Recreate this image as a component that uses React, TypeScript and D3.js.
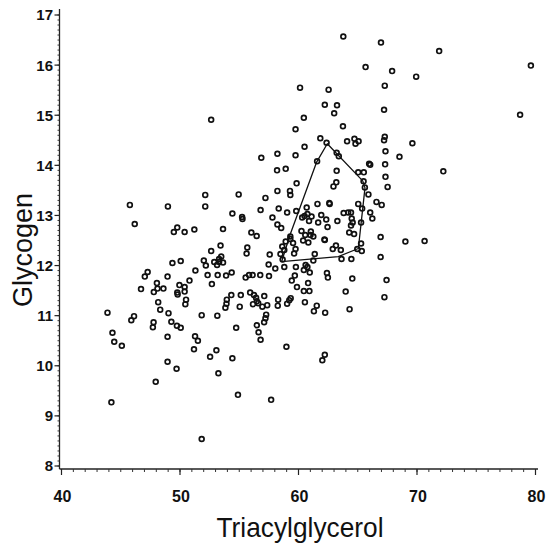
import * as d3 from "d3";

// Triacylglycerol (x) and Glycogen (y)
const triacylglycerol = [
  63.78, 66.96, 71.87, 79.61, 65.66, 67.9, 69.93, 67.28, 60.13, 62.54,
  62.22, 63.25, 67.22, 63.01, 78.7, 52.63, 60.45, 63.75, 59.75, 61.84,
  67.28, 67.22, 64.72, 65.07, 64.1, 64.81, 69.61, 62.37, 60.51, 63.22,
  63.4, 58.22, 56.86, 59.75, 67.34, 68.52, 61.57, 65.96, 66.05, 67.31,
  72.22, 58.19, 58.92, 63.22, 65.04, 65.51, 67.34, 65.49, 63.19, 62.95,
  59.84, 65.6, 67.52, 58.22, 59.28, 59.31, 54.95, 52.13, 65.9, 57.21,
  45.77, 48.98, 52.13, 66.58, 67.02, 65.04, 62.6, 62.63, 61.6, 60.69,
  56.8, 58.33, 65.37, 59.81, 59.04, 54.42, 55.24, 55.27, 60.51, 60.75,
  61.92, 63.81, 64.19, 64.43, 66.05, 57.8, 60.31, 61.1, 66.23, 62.34,
  64.49, 64.57, 63.28, 60.89, 61.66, 65.28, 46.18, 58.22, 62.45, 64.43,
  58.54, 53.63, 51.21, 49.77, 49.48, 50.39, 56.02, 56.47, 60.25, 60.57,
  61.04, 61.01, 61.25, 64.28, 64.69, 66.93, 59.31, 59.31, 58.92, 59.54,
  60.39, 60.83, 62.19, 62.22, 65.28, 69.02, 70.64, 53.42, 55.68, 63.16,
  62.89, 63.57, 58.63, 59.75, 58.8, 65.34, 64.96, 52.63, 55.62, 57.57,
  58.48, 59.63, 61.37, 53.48, 53.3, 66.93, 63.63, 64.46, 61.25, 52.01,
  50.06, 49.36, 52.89, 53.3, 53.63, 52.18, 53.13, 57.48, 58.66, 58.8,
  59.78, 60.6, 60.75, 58.04, 60.45, 60.95, 62.4, 51.3, 47.27, 47.03,
  52.33, 53.18, 53.89, 54.36, 55.83, 56.13, 56.77, 57.51, 55.54, 48.95,
  62.48, 59.69, 64.54, 50.8, 59.43, 67.43, 48.05, 60.81, 49.95, 50.39,
  52.69, 46.71, 48.1, 48.6, 47.79, 49.77, 50.39, 59.87, 60.45, 60.92,
  63.98, 55.92, 56.24, 56.42, 49.8, 54.33, 55.13, 57.11, 53.95, 56.48,
  56.6, 50.51, 58.28, 59.34, 59.22, 67.25, 48.16, 60.54, 53.92, 53.83,
  50.45, 56.16, 55.04, 56.95, 57.36, 58.25, 59.04, 61.54, 48.33, 64.31,
  43.88, 46.12, 45.89, 49.03, 51.83, 53.15, 57.27, 61.3, 62.25, 57.21,
  57.1, 49.27, 47.77, 47.71, 49.74, 50.06, 56.48, 56.63, 56.8, 54.74,
  44.3, 44.45, 45.09, 48.95, 51.27, 51.51, 58.98, 53.07, 52.54, 51.18,
  54.42, 62.22, 62.01, 48.95, 49.71, 53.24, 47.95, 54.89, 57.69, 44.21,
  51.83,
];

const glycogen = [
  16.57, 16.45, 16.28, 15.99, 15.96, 15.88, 15.77, 15.59, 15.55, 15.51,
  15.21, 15.2, 15.11, 15.04, 15.01, 14.91, 14.95, 14.78, 14.72, 14.54,
  14.57, 14.5, 14.53, 14.48, 14.48, 14.43, 14.44, 14.45, 14.37, 14.25,
  14.18, 14.23, 14.15, 14.2, 14.28, 14.17, 14.08, 14.03, 14.01, 14.02,
  13.88, 13.9, 13.93, 13.89, 13.86, 13.86, 13.77, 13.68, 13.66, 13.58,
  13.64, 13.56, 13.57, 13.49, 13.49, 13.41, 13.42, 13.41, 13.42, 13.35,
  13.21, 13.18, 13.18, 13.27, 13.21, 13.23, 13.25, 13.23, 13.23, 13.16,
  13.11, 13.14, 13.14, 13.09, 13.06, 13.04, 12.97, 12.93, 12.99, 13.03,
  13.01, 13.05, 13.06, 13.06, 13.06, 12.96, 12.96, 12.98, 12.94, 12.92,
  12.94, 12.86, 12.89, 12.89, 12.86, 12.86, 12.83, 12.82, 12.77, 12.8,
  12.75, 12.73, 12.72, 12.76, 12.67, 12.67, 12.66, 12.59, 12.69, 12.61,
  12.68, 12.61, 12.58, 12.66, 12.63, 12.57, 12.58, 12.53, 12.48, 12.45,
  12.5, 12.46, 12.52, 12.51, 12.44, 12.48, 12.49, 12.4, 12.36, 12.4,
  12.33, 12.31, 12.38, 12.33, 12.31, 12.29, 12.33, 12.29, 12.24, 12.22,
  12.23, 12.24, 12.23, 12.18, 12.13, 12.17, 12.13, 12.13, 12.1, 12.1,
  12.09, 12.05, 12.07, 12.07, 12.06, 12.0, 12.01, 12.02, 12.12, 11.97,
  11.97, 12.01, 11.97, 11.94, 11.91, 11.86, 11.85, 11.9, 11.87, 11.78,
  11.81, 11.81, 11.8, 11.86, 11.81, 11.81, 11.81, 11.79, 11.76, 11.78,
  11.76, 11.8, 11.74, 11.7, 11.7, 11.71, 11.65, 11.65, 11.61, 11.57,
  11.63, 11.53, 11.54, 11.54, 11.47, 11.46, 11.48, 11.57, 11.49, 11.49,
  11.48, 11.46, 11.41, 11.36, 11.42, 11.41, 11.41, 11.39, 11.32, 11.29,
  11.25, 11.32, 11.32, 11.35, 11.31, 11.37, 11.27, 11.27, 11.24, 11.16,
  11.23, 11.23, 11.18, 11.18, 11.21, 11.2, 11.24, 11.2, 11.12, 11.13,
  11.06, 10.99, 10.91, 11.05, 11.01, 11.0, 11.02, 11.09, 11.06, 10.95,
  10.87, 10.88, 10.87, 10.77, 10.8, 10.76, 10.81, 10.67, 10.52, 10.76,
  10.66, 10.48, 10.4, 10.58, 10.59, 10.5, 10.38, 10.31, 10.18, 10.33,
  10.15, 10.22, 10.11, 10.08, 9.94, 9.85, 9.68, 9.42, 9.32, 9.27,
  8.54,
];

// outline drawn round the central group
const hullX = [62.43, 65.42, 65.61, 65.05, 63.36, 58.58, 59.28, 61.54];
const hullY = [14.43, 13.69, 13.55, 12.34, 12.18, 12.08, 12.61, 14.07];

const xTicks = [40, 50, 60, 70, 80];
const yTicks = [8, 9, 10, 11, 12, 13, 14, 15, 16, 17];

export default function App() {
  const width = 546;
  const height = 552;

  const x = d3.scaleLinear().domain([40, 80]).range([61.5, 535.5]);
  const y = d3.scaleLinear().domain([8, 17]).range([466, 15]);

  // axes sit a little outside the data frame, as in the scan
  const axisX = 59.5;
  const axisY = 469;

  const xMinor = d3.range(40, 81, 1);
  const yMinor = d3.range(8, 17.05, 0.1);

  const points = triacylglycerol.map((t, i) => [t, glycogen[i]]);
  const hull = d3.line()(hullX.map((t, i) => [x(t), y(hullY[i])]));

  const font = "'Liberation Sans', Arial, sans-serif";

  return (
    <svg
      width={width}
      height={height}
      style={{ position: "absolute", left: 0, top: 0, background: "#fff" }}
    >
      {/* y axis */}
      <line x1={axisX} x2={axisX} y1={9} y2={axisY} stroke="#222" strokeWidth={1.3} />
      {yMinor.map((v) => (
        <line key={"ym" + v} x1={axisX - 2} x2={axisX} y1={y(v)} y2={y(v)} stroke="#333" strokeWidth={1} />
      ))}
      {yTicks.map((v) => (
        <g key={"y" + v}>
          <line x1={axisX - 5} x2={axisX} y1={y(v)} y2={y(v)} stroke="#222" strokeWidth={1.2} />
          <text
            x={53}
            y={y(v)}
            dy="0.36em"
            textAnchor="end"
            fontFamily={font}
            fontWeight="bold"
            fontSize={15}
            fill="#111"
          >
            {v}
          </text>
        </g>
      ))}

      {/* x axis */}
      <line x1={axisX} x2={538} y1={axisY} y2={axisY} stroke="#222" strokeWidth={1.3} />
      {xMinor.map((v) => (
        <line key={"xm" + v} x1={x(v)} x2={x(v)} y1={axisY} y2={axisY + 3} stroke="#333" strokeWidth={1} />
      ))}
      {xTicks.map((v) => (
        <g key={"x" + v}>
          <line x1={x(v)} x2={x(v)} y1={axisY} y2={axisY + 6} stroke="#222" strokeWidth={1.2} />
          <text
            x={x(v) + 1}
            y={502}
            textAnchor="middle"
            fontFamily={font}
            fontWeight="bold"
            fontSize={16}
            fill="#111"
          >
            {v}
          </text>
        </g>
      ))}

      {/* axis titles */}
      <text
        x={300}
        y={537}
        textAnchor="middle"
        fontFamily={font}
        fontSize={28}
        textLength={167}
        lengthAdjust="spacingAndGlyphs"
        fill="#111"
      >
        Triacylglycerol
      </text>
      <text
        transform="translate(32,250) rotate(-90)"
        textAnchor="middle"
        fontFamily={font}
        fontSize={28}
        textLength={114}
        lengthAdjust="spacingAndGlyphs"
        fill="#111"
      >
        Glycogen
      </text>

      {/* points */}
      {points.map(([t, g], i) => (
        <circle
          key={i}
          cx={x(t)}
          cy={y(g)}
          r={2.4}
          fill="none"
          stroke="#111"
          strokeWidth={1.7}
        />
      ))}

      {/* outline */}
      <path d={hull + "Z"} fill="none" stroke="#111" strokeWidth={1.3} strokeLinejoin="round" />
    </svg>
  );
}
